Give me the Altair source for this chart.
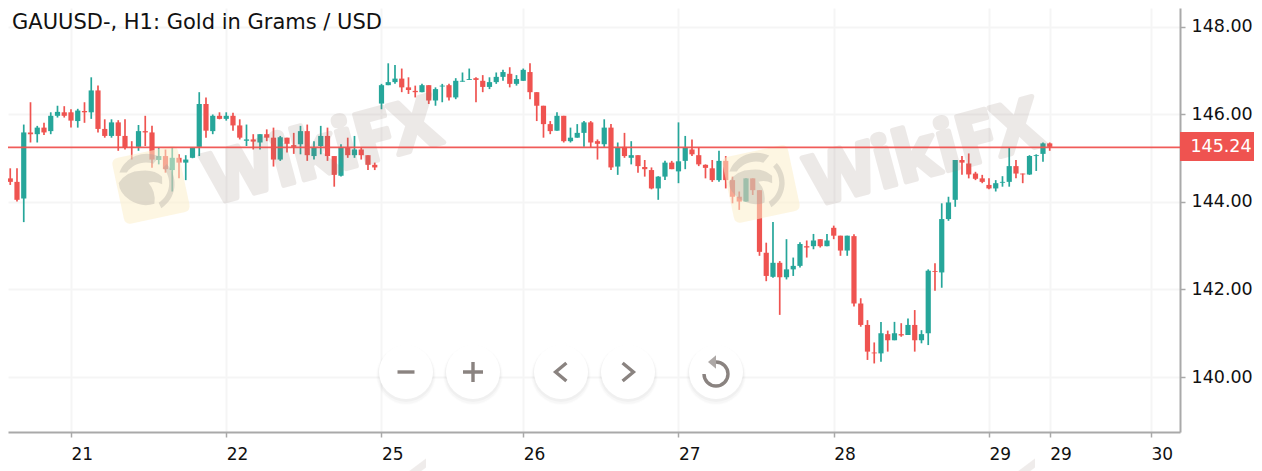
import altair as alt

opens = [144.44,144.54,144.46,144.08,145.59,145.55,145.70,145.62,145.97,146.05,
146.05,145.85,146.08,146.05,146.55,145.67,145.51,145.82,145.51,145.26,
145.26,145.62,145.59,144.96,145.05,144.73,145.01,144.90,145.01,145.26,
146.24,145.62,145.97,145.90,145.97,145.75,145.40,145.43,145.36,145.55,
145.47,144.97,145.47,145.30,145.32,145.62,145.05,145.28,145.51,145.05,
144.60,145.24,145.07,145.20,145.07,144.85,146.25,146.67,146.74,146.82,
146.62,146.54,146.51,146.67,146.32,146.64,146.67,146.39,146.75,146.79,
146.83,146.77,146.63,146.74,146.86,146.93,146.70,146.77,146.97,146.51,
146.20,145.78,145.63,145.97,145.39,145.47,145.58,145.82,145.39,145.32,
145.70,144.81,145.26,145.01,145.07,144.80,144.73,144.31,144.58,144.90,
144.70,144.94,145.20,145.07,144.85,144.77,144.50,144.94,144.50,144.12,
144.01,144.54,144.27,142.84,142.29,142.61,142.28,142.46,142.54,142.99,
142.99,143.15,142.99,143.41,143.23,142.89,143.22,141.68,141.19,140.56,
140.54,140.98,140.84,140.98,140.96,141.19,140.84,141.00,142.42,142.39,
143.61,144.05,144.96,144.88,144.65,144.54,144.39,144.31,144.44,144.46,
144.82,144.65,144.63,145.05,145.10,145.34]

closes = [144.58,144.46,144.05,145.59,145.55,145.70,145.59,145.97,146.06,145.97,
145.86,146.09,146.05,146.55,145.67,145.51,145.82,145.51,145.24,145.25,
145.62,145.59,144.97,145.05,144.75,145.01,144.90,144.97,145.24,146.24,
145.63,145.97,145.90,145.97,145.75,145.47,145.43,145.38,145.55,145.47,
144.97,145.48,145.33,145.26,145.62,145.07,145.24,145.51,145.05,144.62,
145.25,145.07,145.20,145.07,144.85,144.79,146.67,146.74,146.82,146.62,
146.56,146.51,146.67,146.32,146.58,146.66,146.39,146.77,146.77,146.81,
146.79,146.63,146.74,146.86,146.97,146.70,146.81,147.02,146.51,146.20,
145.78,145.62,145.97,145.39,145.47,145.58,145.82,145.36,145.33,145.70,
144.79,145.24,145.05,145.07,144.82,144.75,144.31,144.58,144.90,144.75,
144.93,145.25,145.09,144.86,144.78,144.50,144.94,144.50,144.12,144.01,
144.54,144.27,142.86,142.31,142.61,142.28,142.46,142.54,143.04,142.96,
143.12,142.99,143.12,143.23,142.89,143.23,141.68,141.19,140.58,140.54,
141.00,140.84,141.00,140.95,141.19,140.84,140.98,142.43,142.40,143.61,
143.99,144.96,144.90,144.63,144.53,144.46,144.31,144.43,144.46,144.82,
144.65,144.63,145.05,145.07,145.34,145.26]

highs = [144.65,144.77,144.77,145.77,146.28,145.74,145.81,146.05,146.20,146.19,
146.12,146.13,146.28,146.85,146.66,145.89,145.89,145.87,145.89,145.39,
145.76,145.97,145.74,145.23,145.20,145.24,145.09,145.07,145.24,146.51,
146.39,146.00,146.05,146.05,146.04,145.89,145.77,145.55,145.55,145.66,
145.70,145.51,145.47,145.58,145.74,145.77,145.39,145.74,145.70,145.05,
145.32,145.47,145.51,145.24,145.07,144.90,146.70,147.17,147.13,147.05,
146.85,146.66,146.70,146.67,146.62,146.70,146.70,146.83,146.96,147.05,
146.85,146.90,146.85,146.96,147.02,147.08,146.90,147.05,147.17,146.51,
146.20,145.85,146.05,145.97,145.70,145.78,145.85,145.85,145.43,145.89,
145.78,145.36,145.58,145.39,145.07,144.96,144.79,144.59,144.94,144.94,
145.82,145.51,145.43,145.25,144.86,144.96,145.17,145.05,144.58,144.24,
144.54,144.54,144.27,143.07,143.54,142.65,143.15,142.73,143.08,143.12,
143.27,143.15,143.27,143.46,143.23,143.23,143.26,141.80,141.30,140.79,
141.26,141.06,141.26,141.23,141.34,141.53,141.07,142.46,142.60,143.97,
144.12,144.96,145.05,145.11,144.69,144.62,144.54,144.50,144.59,145.25,
144.96,144.65,145.07,145.09,145.36,145.36]

lows = [144.31,144.39,144.01,143.54,145.36,145.36,145.53,145.55,145.93,145.93,
145.70,145.70,145.81,145.90,145.59,145.47,145.47,145.17,145.20,144.97,
145.17,145.28,144.78,144.86,144.67,144.24,144.54,144.50,145.00,145.05,
145.47,145.55,145.89,145.86,145.63,145.43,145.28,145.20,145.20,145.39,
144.81,144.94,145.13,145.10,145.09,144.94,144.97,145.09,144.94,144.35,
144.58,145.01,145.01,144.97,144.73,144.73,146.12,146.67,146.70,146.51,
146.47,146.39,146.51,146.24,146.20,146.28,146.32,146.35,146.75,146.79,
146.28,146.51,146.58,146.70,146.77,146.62,146.66,146.77,146.35,145.85,
145.47,145.55,145.63,145.36,145.36,145.47,145.26,145.25,144.97,145.26,
144.73,144.62,145.01,144.86,144.67,144.58,144.29,144.05,144.50,144.75,
144.43,144.75,145.05,144.82,144.54,144.46,144.46,144.31,143.97,143.82,
144.01,144.16,142.77,142.19,142.27,141.42,142.23,142.31,142.50,142.73,
142.92,142.96,142.99,143.15,142.77,142.77,141.61,141.15,140.39,140.31,
140.35,140.58,140.84,140.92,140.96,140.58,140.77,140.73,141.97,142.04,
143.57,143.89,144.62,144.54,144.50,144.43,144.29,144.24,144.35,144.35,
144.54,144.43,144.62,144.71,144.92,145.17]

price_ticks = [148, 146, 144, 142, 140]
day_positions = [10, 33, 56, 77, 100, 123, 146, 155, 170]
day_labels = ["21", "22", "25", "26", "27", "28", "29", "29", "30"]
last_line = 145.25
last_label = "145.24"
title_text = "GAUUSD-, H1: Gold in Grams / USD"

UP, DOWN = "#26a69a", "#ef5350"
FONT = "DejaVu Sans"
INK = "#111111"
AXIS = "#a9a9a9"
GRID = "#f5f5f5"
GLYPH = "#8a8380"

rows = [dict(i=i, o=o, c=c, h=h, l=l, d="up" if c >= o else "down")
        for i, (o, c, h, l) in enumerate(zip(opens, closes, highs, lows))]
table = alt.Data(values=rows)
one = alt.Data(values=[{"k": 0}])

xs = alt.Scale(domain=[0.667, 174.3], nice=False, zero=False, padding=0)
ys = alt.Scale(domain=[138.743, 148.434], nice=False, zero=False, padding=0)
col = alt.Color("d:N", scale=alt.Scale(domain=["up", "down"], range=[UP, DOWN]), legend=None)

label_expr = "[" + ",".join(f"'{s}'" for s in day_labels) + "][indexof([" + \
    ",".join(str(v) for v in day_positions) + "],datum.value)]"

xaxis = alt.Axis(values=day_positions, labelExpr=label_expr, title=None, orient="bottom",
                 grid=True, gridColor=GRID, gridWidth=2, domainColor=AXIS, domainWidth=2,
                 tickColor=AXIS, tickSize=5, tickWidth=1.5, labelAlign="left", labelPadding=9,
                 labelFont=FONT, labelFontSize=17, labelColor=INK, labelOverlap=False,
                 labelBound=False, labelFlush=False)
yaxis = alt.Axis(values=price_ticks, format=".2f", title=None, orient="right",
                 grid=True, gridColor=GRID, gridWidth=2, domainColor=AXIS, domainWidth=2,
                 tickColor=AXIS, tickSize=5, tickWidth=1.5, labelPadding=6, labelAlign="left",
                 labelFont=FONT, labelFontSize=17.5, labelColor=INK, labelOverlap=False,
                 labelBound=False, labelFlush=False)

wicks = alt.Chart(table).mark_rule(strokeWidth=1.7, clip=True).encode(
    x=alt.X("i:Q", scale=xs, axis=xaxis),
    y=alt.Y("h:Q", scale=ys, axis=yaxis),
    y2="l:Q", color=col)
bodies = alt.Chart(table).mark_bar(size=5.2, clip=True).encode(
    x=alt.X("i:Q", scale=xs), y=alt.Y("o:Q", scale=ys), y2="c:Q", color=col)

price_line = alt.Chart(alt.Data(values=[{"p": last_line}])).mark_rule(
    color=DOWN, strokeWidth=1.8, opacity=0.95).encode(y=alt.Y("p:Q", scale=ys))

TILE = "M-0.8 -1 L0.8 -1 Q1 -1 1 -0.8 L1 0.8 Q1 1 0.8 1 L-0.8 1 Q-1 1 -1 0.8 L-1 -0.8 Q-1 -1 -0.8 -1 Z"
EAGLE = ("M-0.95 -0.2 Q-0.6 -0.55 -0.1 -0.45 Q0.35 -0.4 0.55 -0.1 L0.5 0.15 Q0.3 -0.02 0.05 0 "
         "Q0.25 0.35 0.1 0.75 Q-0.35 0.8 -0.7 0.45 Q-1 0.15 -0.95 -0.2 Z "
         "M-0.85 -0.55 A1 1 0 0 1 0.6 -0.8 L0.35 -0.6 A0.8 0.8 0 0 0 -0.6 -0.5 Z "
         "M0.8 -0.5 A1 1 0 0 1 0.3 0.95 L0.25 0.75 A0.8 0.8 0 0 0 0.65 -0.4 Z")


def at(px, py):
    return dict(x=alt.value(px - 8), y=alt.value(py - 8))


def mark_symbol(shape, px, py, size, **kw):
    return alt.Chart(one).mark_point(shape=shape, size=size, **kw).encode(**at(px, py))


def wiki(px, py):
    return alt.Chart(one).mark_text(text="WikiFX", font="Open Sans", fontWeight="bold",
                                    fontSize=70, color="#8f7a70", stroke="#8f7a70", strokeWidth=5,
                                    strokeJoin="round", opacity=0.16, angle=345,
                                    align="center", baseline="middle").encode(**at(px, py))


layers = [wicks, bodies]
for tx, ty, wx, wy in [(151, 185, 323, 153), (761, 184, 925, 155)]:
    layers.append(mark_symbol(TILE, tx, ty, 4500, filled=True, fill="#fbeecb", opacity=0.55,
                              strokeOpacity=0, angle=348))
    layers.append(mark_symbol(EAGLE, tx - 4, ty - 2, 3400, filled=True, fill="#a8a09c", opacity=0.33,
                              strokeOpacity=0, angle=348))
    layers.append(wiki(wx, wy))
# tips of the next watermark row, just showing at the bottom edge
for fx in [411, 1020]:
    layers.append(mark_symbol("M-1 1 L1 -0.5 L1 0.1 L-0.2 1 Z", fx, 466, 900, filled=True,
                              fill="#8f7a70", opacity=0.14, strokeOpacity=0))
layers.append(price_line)

# zoom / pan buttons
for bx in [406, 473, 561, 628, 716]:
    for dy, r, op in [(3, 30, 0.012), (3, 29, 0.018), (2, 28, 0.028)]:
        layers.append(alt.Chart(one).mark_circle(size=4 * r * r, color="#000000", opacity=op)
                      .encode(**at(bx, 372 + dy)))
    layers.append(alt.Chart(one).mark_circle(size=4 * 27 * 27, color="#ffffff", opacity=1)
                  .encode(**at(bx, 372)))
icon = dict(filled=False, stroke=GLYPH, strokeWidth=3.4, fillOpacity=0)
layers.append(mark_symbol("M-1 0 L1 0", 406, 372, 289, **icon))
layers.append(mark_symbol("M-1 0 L1 0 M0 -1 L0 1", 473, 372, 400, **icon))
layers.append(mark_symbol("M0.6 -1 L-0.6 0 L0.6 1", 561, 372, 324, **icon))
layers.append(mark_symbol("M-0.6 -1 L0.6 0 L-0.6 1", 628, 372, 324, **icon))
layers.append(mark_symbol("M0 -1 A1 1 0 1 1 -1 0", 716, 374, 576, **icon))
layers.append(mark_symbol("M1 -1.7 L1 1.7 L-1 0 Z", 712, 362, 64, filled=True, fill=GLYPH, strokeOpacity=0))

layers.append(alt.Chart(one).mark_text(text=title_text, font=FONT, fontSize=21, color=INK,
                                       align="left", baseline="middle").encode(**at(12, 23)))
layers.append(alt.Chart(one).mark_rect(color=DOWN).encode(
    x=alt.value(1180 - 8), x2=alt.value(1254 - 8), y=alt.value(132 - 8), y2=alt.value(161 - 8)))
layers.append(alt.Chart(one).mark_text(text=last_label, font=FONT, fontSize=17.5, color="#ffffff",
                                       align="center", baseline="middle").encode(**at(1221, 147)))

chart = alt.layer(*layers).properties(
    width=1172, height=424,
    padding={"left": 0, "top": 0, "right": 74, "bottom": 39},
    autosize=alt.AutoSizeParams(type="none"),
    background="#ffffff",
).configure_view(stroke=None)

chart.save("out.html", embed_options={"renderer": "svg", "actions": False})
